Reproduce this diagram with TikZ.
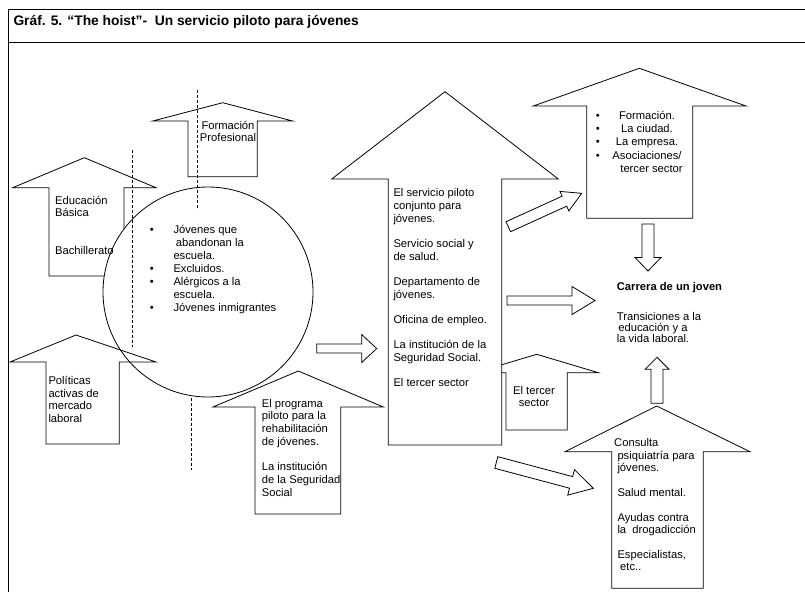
\documentclass[tikz,border=0pt]{standalone}
\usepackage{fontspec}
\setmainfont{Liberation Sans}
\usetikzlibrary{calc}
\tikzset{
  shp/.style={draw=black, line width=0.8pt, line join=miter},
  shpw/.style={shp, fill=white},
  dashline/.style={draw=black, line width=0.8pt, dash pattern=on 3pt off 2pt},
  txt/.style={inner sep=0pt, anchor=north west, align=left},
}
\newcommand\fstr{\rule{0pt}{11pt}}
\newcommand\upblock[9]{\draw[#1] (#4,#6) -- (#2,#3) -- (#5,#6) -- (#8,#6) -- (#8,#9) -- (#7,#9) -- (#7,#6) -- cycle;}
\newcommand\blockarr[6]{%
  \coordinate (#1-t) at #2; \coordinate (#1-p) at #3;
  \coordinate (#1-h) at ($(#1-p)!#6!(#1-t)$);
  \draw[shpw] ($(#1-t)!#4!90:(#1-p)$) -- ($(#1-h)!#4!90:(#1-p)$) -- ($(#1-h)!#5!90:(#1-p)$) -- (#1-p)
     -- ($(#1-h)!#5!-90:(#1-p)$) -- ($(#1-h)!#4!-90:(#1-p)$) -- ($(#1-t)!#4!-90:(#1-p)$) -- cycle;}
\begin{document}
\begin{tikzpicture}[x=1pt,y=-1pt]
\useasboundingbox (0,0) rectangle (805,592);
% frame
\coordinate (fTR) at (805,9); \coordinate (fTL) at (8,9); \coordinate (fBL) at (8,592);
\coordinate (hL) at (8,42); \coordinate (hR) at (805,42);
\draw[line width=0.9pt] (fTR) -- (fTL) -- (fBL);
\draw[line width=0.9pt] (hL) -- (hR);
\node[anchor=base west, inner sep=0pt, font=\fontsize{13.8}{16}\selectfont\bfseries] (title) at (13.3,25)
  {Gráf. 5. “The hoist”-~ Un servicio piloto para jóvenes};

% left arrows behind the circle
\upblock{shpw}{84.3}{157.7}{12.7}{156}{187.7}{49}{124}{276}
\upblock{shpw}{222.7}{102.7}{152.7}{292.7}{121}{188}{257.3}{176.7}
% circle
\node[shpw, circle, minimum size=210pt, inner sep=0pt] (circ) at (208,292) {};
% outline arrows over the circle
\upblock{shp}{76}{335}{10}{156}{362}{46}{119.3}{444}
\upblock{shp}{298.3}{371}{213}{383.3}{407}{255}{340.7}{514}
% tercer sector arrow, then big central arrow
\upblock{shpw}{536.7}{354.3}{475.1}{598.3}{372.7}{506}{567.3}{430}
\upblock{shpw}{445}{91.7}{331.7}{558.3}{179}{388.3}{501.7}{445}
% right arrows
\upblock{shpw}{639.3}{68.3}{533.3}{746}{106}{586.7}{692.7}{218.3}
\upblock{shpw}{656.7}{406}{565}{750}{451.7}{611.7}{703.3}{588.3}

% small block arrows
\blockarr{ca}{(316.7,348.5)}{(376.7,348.5)}{4.5pt}{14pt}{15pt}
\blockarr{ud}{(508.3,226.7)}{(581.7,193.3)}{5.5pt}{10.7pt}{19pt}
\blockarr{hz}{(507,300.5)}{(595,300.5)}{4.5pt}{14pt}{23pt}
\blockarr{ld}{(496.3,462.5)}{(593.3,488.3)}{6pt}{13.2pt}{23pt}
\blockarr{dn}{(648,224)}{(648,271)}{6pt}{13pt}{13.5pt}
\blockarr{up}{(657,403.3)}{(657,357.3)}{6pt}{12pt}{12pt}

% dashed lines
\coordinate (d1a) at (197.7,90); \coordinate (d1b) at (197.7,210);
\coordinate (d2a) at (132.7,150); \coordinate (d2b) at (132.7,346.7);
\coordinate (d3a) at (191.3,398); \coordinate (d3b) at (191.3,470);
\draw[dashline] (d1a) -- (d1b);
\draw[dashline] (d2a) -- (d2b);
\draw[dashline] (d3a) -- (d3b);

% texts
\begin{scope}[font=\fontsize{11.2}{12.7}\selectfont]
\node[inner sep=0pt, anchor=north, align=center] (tfp) at (228,118) {\fstr Formación\\Profesional};
\node[txt] (tedu) at (55,193) {\fstr Educación\\Básica\\[24.5pt]Bachillerato};
\node[txt, font=\fontsize{11.2}{13}\selectfont] (tcirc) at (149.7,222)
 {\fstr\makebox[23.6pt][l]{•}Jóvenes que\\\hspace*{26pt}abandonan la\\\hspace*{23.6pt}escuela.\\
  \makebox[23.6pt][l]{•}Excluidos.\\\makebox[23.6pt][l]{•}Alérgicos a la\\\hspace*{23.6pt}escuela.\\
  \makebox[23.6pt][l]{•}Jóvenes inmigrantes};
\node[txt, font=\fontsize{11.2}{12.8}\selectfont] (tpol) at (48.3,373) {\fstr Políticas\\activas de\\mercado\\laboral};
\node[txt] (tprog) at (261.7,396) {\fstr El programa\\piloto para la\\rehabilitación\\de jóvenes.\\[12.7pt]La institución\\de la Seguridad\\Social};
\node[txt, font=\fontsize{11.2}{12.67}\selectfont] (tbig) at (393.3,185.7)
 {\fstr El servicio piloto\\conjunto para\\jóvenes.\\[12.67pt]Servicio social y\\de salud.\\[12.67pt]Departamento de\\jóvenes.\\[12.67pt]Oficina de empleo.\\[12.67pt]La institución de la\\Seguridad Social.\\[12.67pt]El tercer sector};
\node[inner sep=0pt, anchor=north, align=center, font=\fontsize{11.2}{12}\selectfont] (tts) at (534,383) {\fstr El tercer\\sector};
\node[txt, font=\fontsize{11.2}{13.3}\selectfont] (tbul) at (595.7,108) {\fstr •\\•\\•\\•};
\node[inner sep=0pt, anchor=north, align=center, font=\fontsize{11.2}{13.3}\selectfont] (tform) at (647,108)
 {\fstr Formación.\\La ciudad.\\La empresa.\\Asociaciones/\\\hspace*{9pt}tercer sector};
\node[txt, font=\fontsize{11.2}{12.7}\selectfont\bfseries] (tcar) at (616.7,279.7) {\fstr Carrera de un joven};
\node[txt, font=\fontsize{11.2}{11.3}\selectfont] (ttrans) at (616.7,309) {\fstr Transiciones a la\\\hspace*{1.5pt}educación y a\\la vida laboral.};
\node[txt, font=\fontsize{11.2}{12.4}\selectfont] (tpsy) at (617.3,435.7)
 {\fstr\hspace*{-3.3pt}Consulta\\psiquiatría para\\jóvenes.\\[12.4pt]Salud mental.\\[12.4pt]Ayudas contra\\la\ \ drogadicción\\[12.4pt]Especialistas,\\\hspace*{2.7pt}etc..};
\end{scope}
\end{tikzpicture}
\end{document}
